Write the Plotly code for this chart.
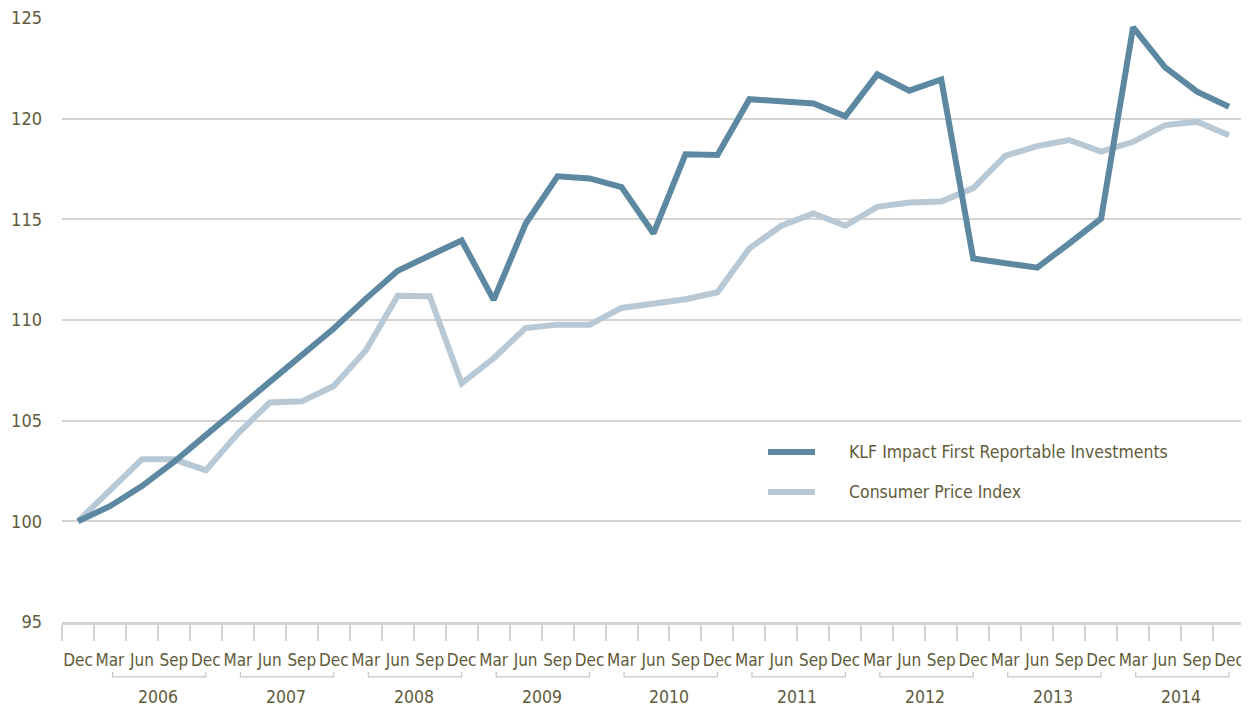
import plotly.graph_objects as go

quarters = ["Dec"] + ["Mar", "Jun", "Sep", "Dec"] * 9
years = [2006, 2007, 2008, 2009, 2010, 2011, 2012, 2013, 2014]

klf = [100.0, 100.75, 101.75, 102.95, 104.28,
       105.6, 106.93, 108.24, 109.58,
       111.05, 112.45, 113.2, 113.95,
       111.0, 114.78, 117.14, 117.03,
       116.6, 114.3, 118.23, 118.2,
       120.97, 120.89, 120.75, 120.12,
       122.2, 121.39, 121.95, 113.05,
       112.8, 112.6, 113.8, 115.04,
       124.54, 122.55, 121.34, 120.59]

cpi = [100.0, 101.54, 103.08, 103.08, 102.54,
       104.36, 105.9, 105.96, 106.72,
       108.49, 111.2, 111.18, 106.85,
       108.1, 109.6, 109.77, 109.77,
       110.6, 110.78, 111.03, 111.38,
       113.56, 114.68, 115.29, 114.68,
       115.62, 115.84, 115.88, 116.55,
       118.15, 118.64, 118.94, 118.36,
       118.85, 119.68, 119.85, 119.18]

y_ticks = [95, 100, 105, 110, 115, 120, 125]

series_names = ["KLF Impact First Reportable Investments", "Consumer Price Index"]
series_colors = ["#5d88a2", "#b9c8d5"]

FONT = "DejaVu Sans Condensed, Liberation Sans Narrow, DejaVu Sans, sans-serif"
TXT = "#5f5b3b"
GRID = "#d4d4d4"

idx = list(range(len(quarters)))

def f(size):
    return dict(family=FONT, size=size, color=TXT)

fig = go.Figure()
fig.add_trace(go.Scatter(x=idx, y=cpi, mode="lines", name=series_names[1],
                         line=dict(color=series_colors[1], width=6), showlegend=False))
fig.add_trace(go.Scatter(x=idx, y=klf, mode="lines", name=series_names[0],
                         line=dict(color=series_colors[0], width=6), showlegend=False))

shapes = []
annotations = []
for k, yr in enumerate(years):
    i_mar = 1 + 4 * k
    i_dec = 4 + 4 * k
    x0 = i_mar + 0.08
    x1 = i_dec
    shapes.append(dict(type="path", xref="x", yref="paper",
                       path=f"M {x0},-0.0828 L {x0},-0.091 L {x1},-0.091 L {x1},-0.0828",
                       line=dict(color="#cbc3bf", width=1.2)))
    annotations.append(dict(x=(i_mar + i_dec) / 2, y=-0.124, xref="x", yref="paper",
                            text=str(yr), showarrow=False, yanchor="middle",
                            font=f(17.5)))

# legend (drawn as layout decorations)
leg_y = [0.2815, 0.2152]
for name, col, ly in zip(series_names, series_colors, leg_y):
    shapes.append(dict(type="line", xref="paper", yref="paper",
                       x0=0.5968, x1=0.6365, y0=ly, y1=ly,
                       line=dict(color=col, width=6)))
    annotations.append(dict(x=0.6636, y=ly, xref="paper", yref="paper",
                            text=name, showarrow=False, xanchor="left", yanchor="middle",
                            font=f(17.5)))

fig.update_layout(
    width=1241, height=700,
    margin=dict(l=54, r=4, t=10, b=86, autoexpand=False),
    paper_bgcolor="white", plot_bgcolor="white",
    showlegend=False,
    shapes=shapes,
    annotations=annotations,
)

fig.update_xaxes(
    range=[-0.5, len(quarters) - 0.5],
    tickmode="array", tickvals=idx, ticktext=quarters, tickangle=0,
    ticks="", ticklabelstandoff=21, automargin=False, ticklabeloverflow="allow",
    tickfont=f(17),
    showgrid=False, zeroline=False,
    showline=True, linecolor=GRID, linewidth=3,
    minor=dict(tickmode="array", tickvals=[i - 0.5 for i in range(len(quarters) + 1)],
               ticks="outside", ticklen=16, tickwidth=2, tickcolor=GRID, showgrid=False),
)
fig.update_yaxes(
    range=[95, 125],
    tickmode="array", tickvals=y_ticks, ticktext=[str(v) for v in y_ticks],
    ticks="", ticklabelstandoff=19, automargin=False, ticklabeloverflow="allow",
    tickfont=f(18),
    showgrid=True, gridcolor=GRID, gridwidth=2,
    zeroline=False, showline=False,
)

fig.write_html("out.html")
